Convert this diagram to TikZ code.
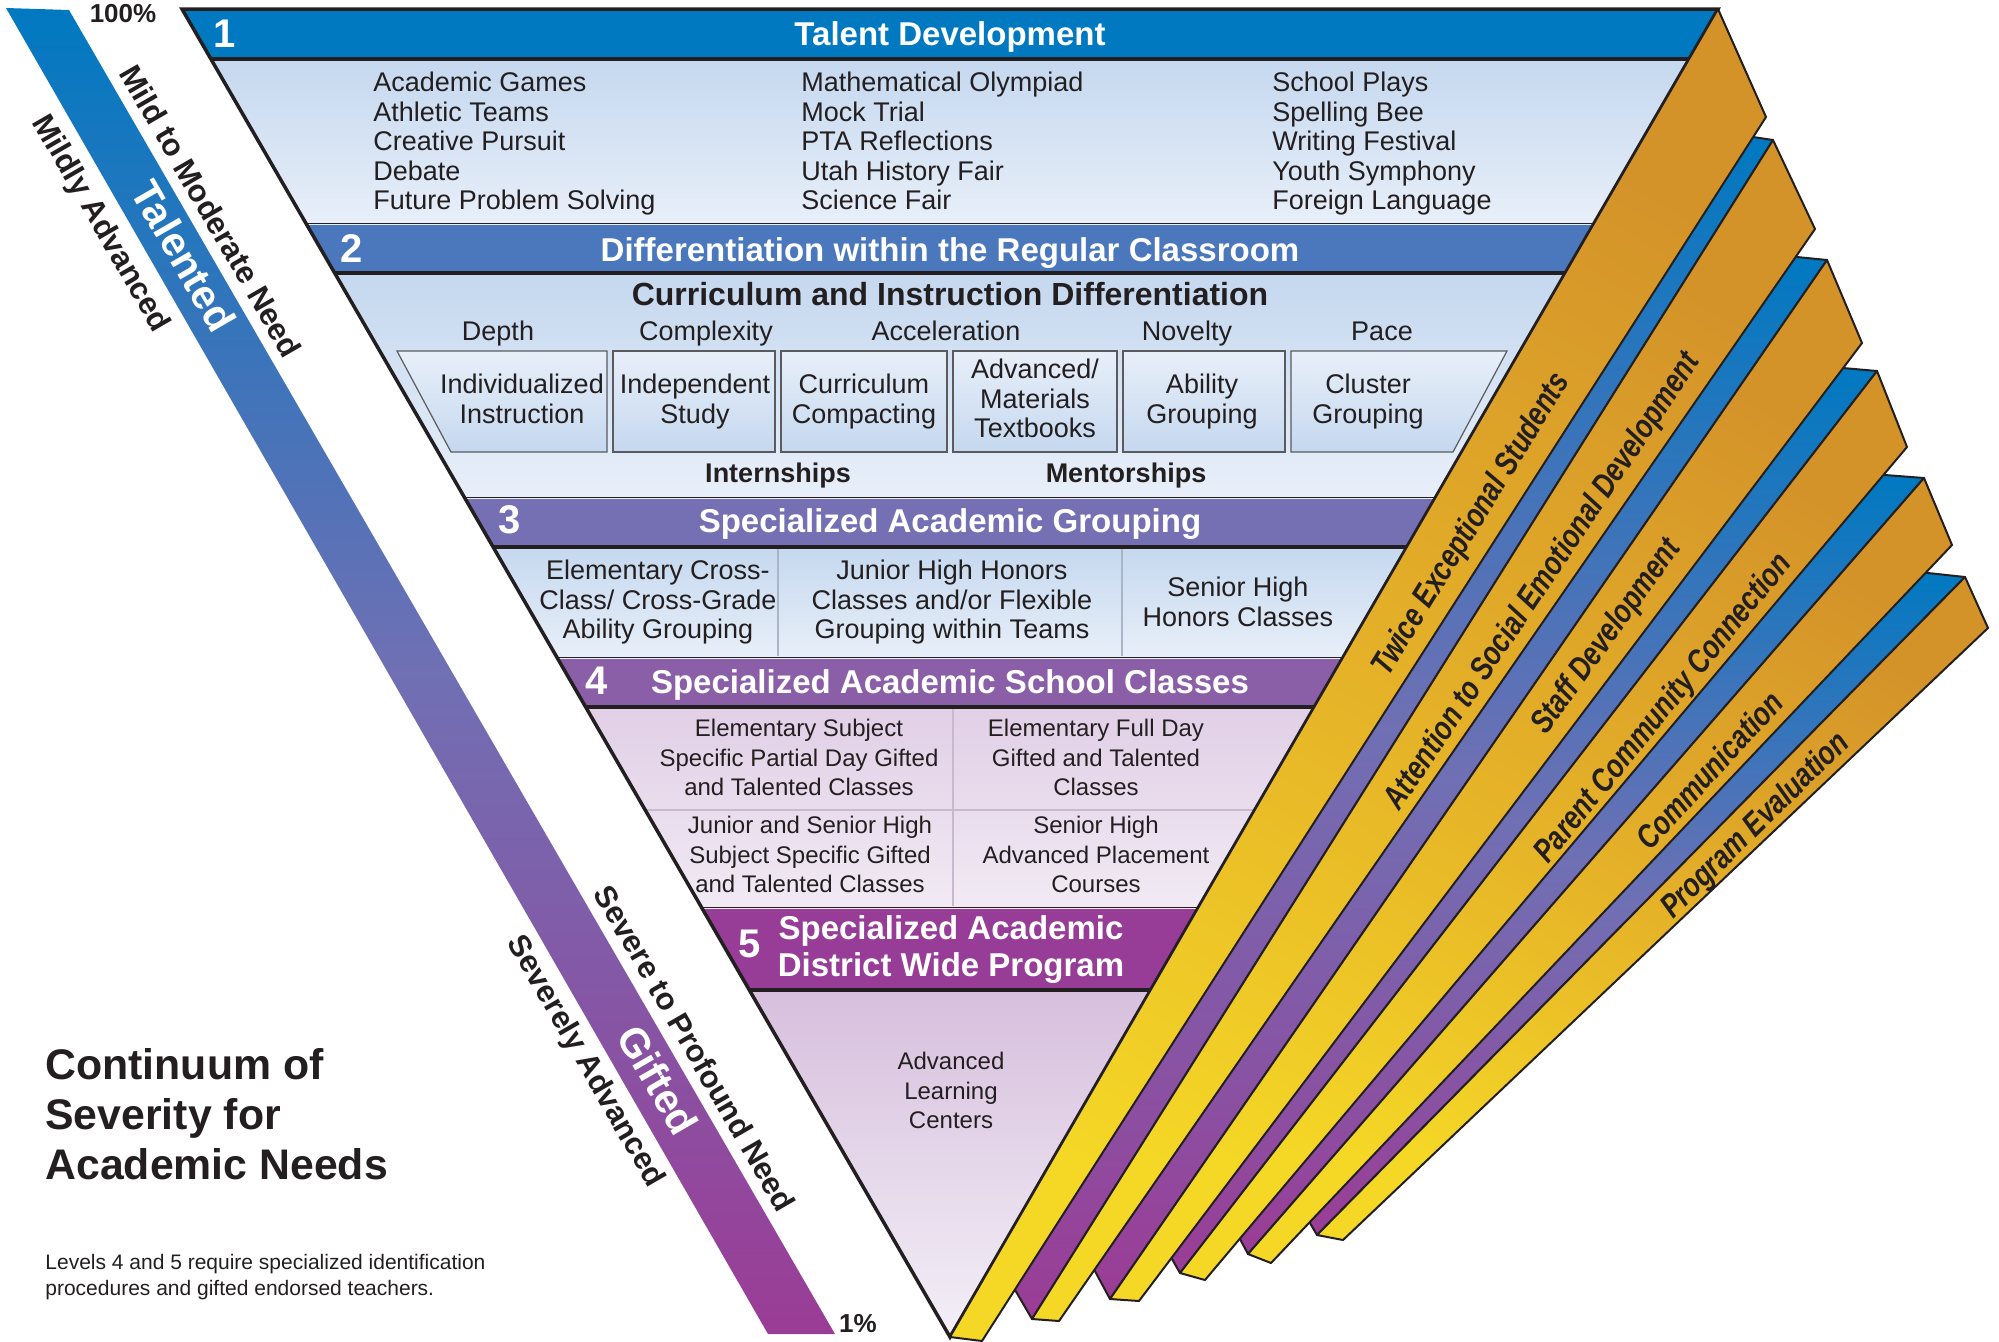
\documentclass[tikz,border=0pt]{standalone}
\usepackage{fontspec}
\setmainfont{Liberation Sans}
\newfontfamily\narrowsans[FakeStretch=0.8]{Liberation Sans}
\usetikzlibrary{
  positioning,
  calc
}

\definecolor{ink}{RGB}{35,31,32}
\definecolor{tdblue}{RGB}{0,121,193}
\definecolor{drblue}{RGB}{75,120,188}
\definecolor{sgpurple}{RGB}{117,112,179}
\definecolor{scpurple}{RGB}{139,94,168}
\definecolor{dwpurple}{RGB}{151,60,151}
\definecolor{paleblue}{RGB}{197,216,239}
\definecolor{paleblueb}{RGB}{232,239,249}
\definecolor{palelilac}{RGB}{225,207,230}
\definecolor{palelilacb}{RGB}{241,234,244}
\definecolor{lilac}{RGB}{215,191,221}
\definecolor{lilacb}{RGB}{243,239,247}
\definecolor{midviolet}{RGB}{112,112,180}
\definecolor{endpurple}{RGB}{155,60,150}
\definecolor{boardorange}{RGB}{212,147,41}
\definecolor{boardamber}{RGB}{229,178,40}
\definecolor{boardyellow}{RGB}{245,216,38}
\definecolor{boxgray}{RGB}{90,90,95}
\definecolor{divblue}{RGB}{170,182,200}
\definecolor{divlilac}{RGB}{200,185,206}

\begin{document}
\begin{tikzpicture}[
    x=0.5pt, y=-0.5pt,
    every node/.style={inner sep=0pt, text=ink},
    item/.style={font=\fontsize{13.5}{14.75}\selectfont, align=center, anchor=north},
    smallitem/.style={item, font=\fontsize{12}{14.75}\selectfont},
    listing/.style={item, align=left, anchor=north west},
    aspect/.style={font=\fontsize{13.5}{14.75}\selectfont, anchor=base},
    strong/.style={font=\bfseries\fontsize{13.5}{14.75}\selectfont, anchor=base},
    levelname/.style={font=\bfseries\fontsize{16.5}{18.5}\selectfont, text=white, anchor=base},
    levelnum/.style={font=\bfseries\fontsize{20}{20}\selectfont, text=white, anchor=base},
    sidelabel/.style={font=\bfseries\fontsize{15.5}{17}\selectfont, rotate=-60},
    ribbonlabel/.style={font=\bfseries\fontsize{20.5}{22}\selectfont, text=white, rotate=-60},
    pct/.style={font=\bfseries\fontsize{13}{14}\selectfont},
    boardlabel/.style={font=\narrowsans\bfseries\itshape\fontsize{16.5}{18}\selectfont},
    front/.style={draw=ink, line width=1pt, line join=round,
      top color=boardorange, bottom color=boardyellow, middle color=boardamber, shading angle=-30},
    side/.style={draw=ink, line width=1pt, line join=round,
      top color=tdblue, bottom color=endpurple, middle color=midviolet},
    box/.style={draw=boxgray, line width=0.6pt, top color=paleblueb, bottom color=paleblue},
    heavy/.style={draw=ink, line width=2pt},
    hair/.style={draw=ink, line width=0.65pt}
  ]

\path[use as bounding box] (0,0) rectangle (1999,1341);
\fill[white] (0,0) rectangle (1999,1341);

% severity ribbon
\shade[top color=tdblue, bottom color=endpurple, middle color=midviolet]
  (6,8) -- (69,10) -- (835,1334) -- (768,1334) -- cycle;

% the five levels
\begin{scope}
  \clip (182,9) -- (1718,9) -- (950,1337) -- cycle;
  \foreach \ya/\yb/\col in {9/59/tdblue, 224/273/drblue, 498/546/sgpurple, 658/706/scpurple, 908/990/dwpurple}
    \fill[\col] (0,\ya) rectangle (2000,\yb);
  \shade[top color=paleblue, bottom color=paleblueb] (0,59) rectangle (2000,224);
  \shade[top color=paleblue, bottom color=paleblueb] (0,273) rectangle (2000,498);
  \shade[top color=paleblue, bottom color=paleblueb] (0,546) rectangle (2000,658);
  \shade[top color=palelilac, bottom color=palelilacb] (0,706) rectangle (2000,908);
  \shade[top color=lilac, bottom color=lilacb] (0,990) rectangle (2000,1337);
  \draw[divblue, line width=0.6pt] (778,548) -- (778,656) (1122,548) -- (1122,656);
  \draw[divlilac, line width=0.6pt] (953,708) -- (953,906) (0,810) -- (2000,810);
  \foreach \y in {59,273,546.5,706.5,990}
    \draw[heavy] (0,\y) -- (2000,\y);
  \foreach \y in {223.5,497.5,657.5,907.5}
    \draw[hair] (0,\y) -- (2000,\y);
\end{scope}

% differentiation boxes
\draw[box] (397,351) -- (607,351) -- (607,452) -- (451,452) -- cycle;
\foreach \xa/\xb in {613/775, 781/947, 953/1117, 1123/1285}
  \draw[box] (\xa,351) rectangle (\xb,452);
\draw[box] (1291,351) -- (1507,351) -- (1453,452) -- (1291,452) -- cycle;

\draw[ink, line width=1.75pt] (182,9) -- (1718,9) -- (950,1337) -- cycle;

% boards
\coordinate (top1) at (1718,9);    \coordinate (rim1) at (1766,117);
\coordinate (footl1) at (950,1337); \coordinate (footr1) at (982,1341);
\coordinate (sidetop2) at (1753,137); \coordinate (top2) at (1773,140); \coordinate (rim2) at (1815,229);
\coordinate (sidefoot2) at (1018,1295); \coordinate (footl2) at (1032,1319); \coordinate (footr2) at (1059,1321);
\coordinate (sidetop3) at (1797,257); \coordinate (top3) at (1827,260); \coordinate (rim3) at (1862,343);
\coordinate (sidefoot3) at (1096,1273); \coordinate (footl3) at (1110,1299); \coordinate (footr3) at (1139,1301);
\coordinate (sidetop4) at (1843,368); \coordinate (top4) at (1877,371); \coordinate (rim4) at (1907,447);
\coordinate (sidefoot4) at (1172,1259); \coordinate (footl4) at (1180,1273); \coordinate (footr4) at (1205,1280);
\coordinate (sidetop5) at (1885,475); \coordinate (top5) at (1924,478); \coordinate (rim5) at (1952,545);
\coordinate (sidefoot5) at (1240,1239); \coordinate (footl5) at (1248,1254); \coordinate (footr5) at (1271,1263);
\coordinate (sidetop6) at (1928,573); \coordinate (top6) at (1965,577); \coordinate (rim6) at (1988,628);
\coordinate (sidefoot6) at (1310,1223); \coordinate (footl6) at (1317,1235); \coordinate (footr6) at (1343,1240);

\foreach \k in {6,5,4,3,2} {
  \draw[side] ($(top\k)!1.6!(sidetop\k)$) -- (top\k) -- (footl\k) -- ($(footl\k)!1.6!(sidefoot\k)$) -- cycle;
  \draw[front] (top\k) -- (rim\k) -- (footr\k) -- (footl\k) -- cycle;
}
\draw[front] (top1) -- (rim1) -- (footr1) -- (footl1) -- cycle;

\node[boardlabel, rotate=58.5] (twice) at (1472,525) {Twice Exceptional Students};
\node[boardlabel, rotate=56.3] (socemo) at (1543,582) {Attention to Social Emotional Development};
\node[boardlabel, rotate=54.2] (staff) at (1607,637) {Staff Development};
\node[boardlabel, rotate=51] (parent) at (1664,709) {Parent Community Connection};
\node[boardlabel, rotate=47.7] (comm) at (1709,770) {Communication};
\node[boardlabel, rotate=44.5] (evalu) at (1756,826) {Program Evaluation};

% level 1
\node[levelnum] (num1) at (225,47) {1};
\node[levelname] (lev1) at (950,45) {Talent Development};
\node[listing] (acta) at (373,72) {Academic Games\\Athletic Teams\\Creative Pursuit\\Debate\\Future Problem Solving};
\node[listing] (actb) at (801,72) {Mathematical Olympiad\\Mock Trial\\PTA Reflections\\Utah History Fair\\Science Fair};
\node[listing] (actc) at (1272,72) {School Plays\\Spelling Bee\\Writing Festival\\Youth Symphony\\Foreign Language};

% level 2
\node[levelnum] (num2) at (352,262) {2};
\node[levelname] (lev2) at (950,261) {Differentiation within the Regular Classroom};
\node[font=\bfseries\fontsize{16}{18}\selectfont, anchor=base] (cid) at (950,305) {Curriculum and Instruction Differentiation};
\node[aspect] (depth) at (498,340) {Depth};
\node[aspect] (cplx) at (706,340) {Complexity};
\node[aspect] (accel) at (946,340) {Acceleration};
\node[aspect] (novel) at (1187,340) {Novelty};
\node[aspect] (pace) at (1382,340) {Pace};
\node[item] (indiv) at (522,374) {Individualized\\Instruction};
\node[item] (indep) at (695,374) {Independent\\Study};
\node[item] (compact) at (864,374) {Curriculum\\Compacting};
\node[item] (advmat) at (1035,359) {Advanced/\\Materials\\Textbooks};
\node[item] (ability) at (1202,374) {Ability\\Grouping};
\node[item] (cluster) at (1368,374) {Cluster\\Grouping};
\node[strong] (intern) at (778,482) {Internships};
\node[strong] (mentor) at (1126,482) {Mentorships};

% level 3
\node[levelnum] (num3) at (510,533) {3};
\node[levelname] (lev3) at (950,532) {Specialized Academic Grouping};
\node[item] (elemx) at (658,560) {Elementary Cross-\\Class/ Cross-Grade\\Ability Grouping};
\node[item] (jrhon) at (952,560) {Junior High Honors\\Classes and/or Flexible\\Grouping within Teams};
\node[item] (srhon) at (1238,577) {Senior High\\Honors Classes};

% level 4
\node[levelnum] (num4) at (597,694) {4};
\node[levelname] (lev4) at (950,693) {Specialized Academic School Classes};
\node[smallitem] (elsub) at (799,719) {Elementary Subject\\Specific Partial Day Gifted\\and Talented Classes};
\node[smallitem] (elfull) at (1096,719) {Elementary Full Day\\Gifted and Talented\\Classes};
\node[smallitem] (jrsr) at (810,816) {Junior and Senior High\\Subject Specific Gifted\\and Talented Classes};
\node[smallitem] (apc) at (1096,816) {Senior High\\Advanced Placement\\Courses};

% level 5
\node[levelnum] (num5) at (750,957) {5};
\node[levelname, anchor=north, align=center] (lev5) at (951,915) {Specialized Academic\\District Wide Program};
\node[smallitem] (alc) at (951,1052) {Advanced\\Learning\\Centers};

% continuum labels
\node[pct] (full) at (123,14) {100\%};
\node[pct] (one) at (858,1324) {1\%};
\node[sidelabel] (mild) at (211,211) {Mild to Moderate Need};
\node[ribbonlabel] (talent) at (184,256) {Talented};
\node[sidelabel] (mildly) at (100,224) {Mildly Advanced};
\node[sidelabel] (severe) at (695,1048) {Severe to Profound Need};
\node[ribbonlabel] (gifted) at (658,1080) {Gifted};
\node[sidelabel] (severely) at (585,1062) {Severely Advanced};

\node[font=\bfseries\fontsize{21.4}{25}\selectfont, align=left, anchor=north west] (cont) at (45,1048)
  {Continuum of\\Severity for\\Academic Needs};
\node[font=\fontsize{10.5}{13}\selectfont, align=left, below=37pt of cont.south west, anchor=north west] (req)
  {Levels 4 and 5 require specialized identification\\procedures and gifted endorsed teachers.};
\end{tikzpicture}
\end{document}
